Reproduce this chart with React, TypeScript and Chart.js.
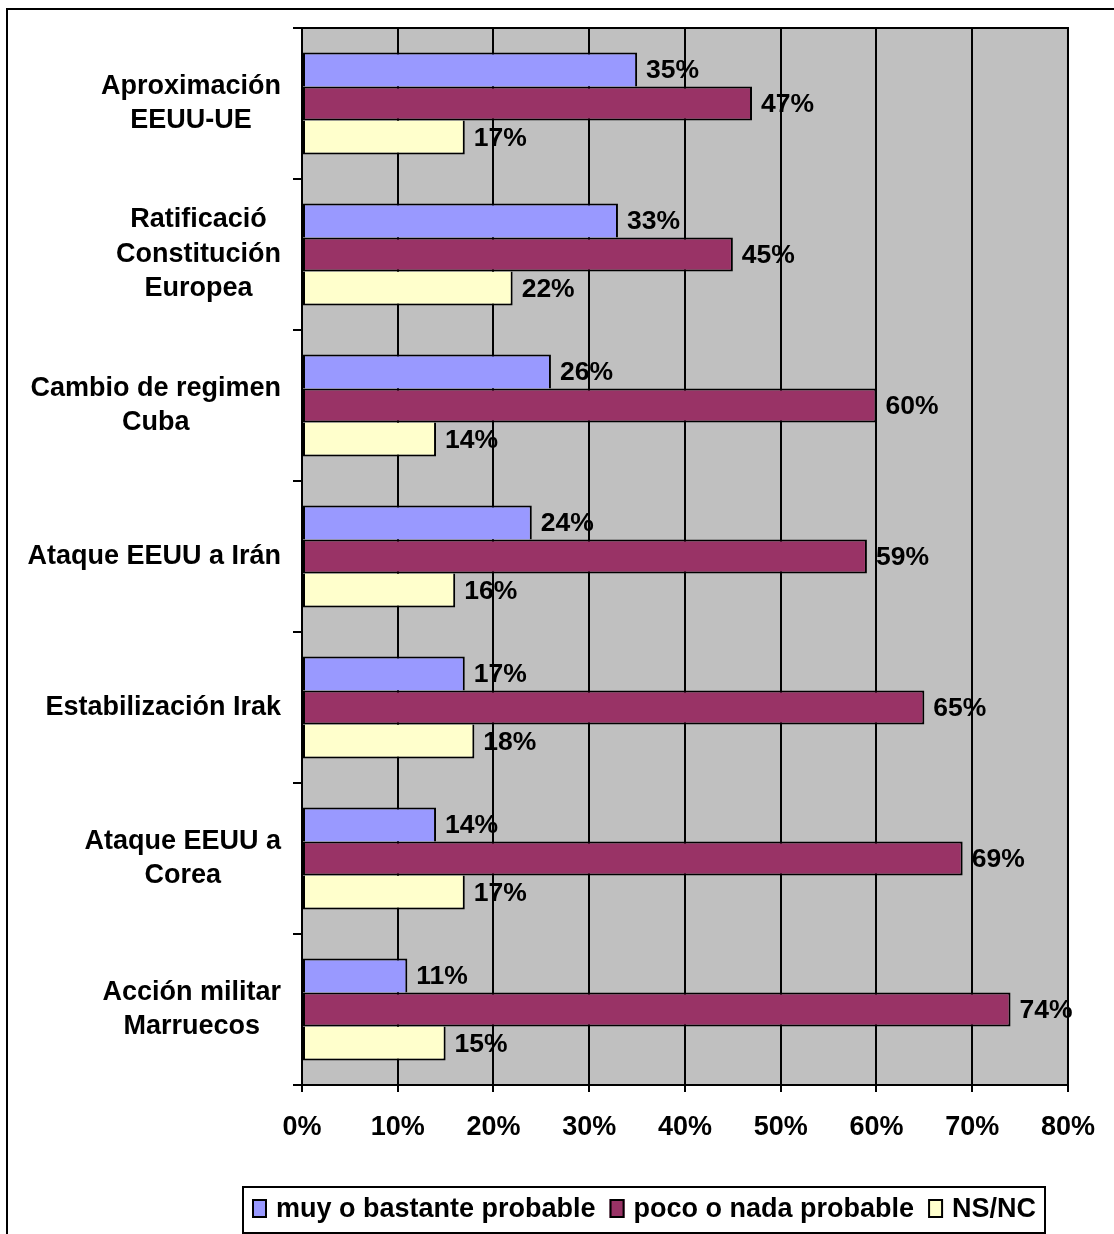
import React, { useEffect, useRef } from "react";
import { Chart, registerables } from "chart.js";

Chart.register(...registerables);

const categories: string[][] = [
  ["Aproximación", "EEUU-UE"],
  ["Ratificació", "Constitución", "Europea"],
  ["Cambio de regimen", "Cuba"],
  ["Ataque EEUU a Irán"],
  ["Estabilización Irak"],
  ["Ataque EEUU a", "Corea"],
  ["Acción militar", "Marruecos"],
];
const seriesLabels = ["muy o bastante probable", "poco o nada probable", "NS/NC"];
const muyProbable = [35, 33, 26, 24, 17, 14, 11];
const pocoProbable = [47, 45, 60, 59, 65, 69, 74];
const nsnc = [17, 22, 14, 16, 18, 17, 15];
const seriesColors = ["#9999FF", "#993366", "#FFFFCC"];
const xMin = 0;
const xMax = 80;
const xStep = 10;

const FONT_FAMILY = '"Liberation Sans", Arial, Helvetica, sans-serif';
const FONT = `bold 27px ${FONT_FAMILY}`;
const LABEL_FONT = `bold 26.5px ${FONT_FAMILY}`;

const decorPlugin = {
  id: "decor",
  beforeDraw(chart: any) {
    const { ctx, chartArea } = chart;
    ctx.save();
    ctx.fillStyle = "#FFFFFF";
    ctx.fillRect(0, 0, chart.width, chart.height);
    ctx.fillStyle = "#C0C0C0";
    ctx.fillRect(chartArea.left, chartArea.top, chartArea.right - chartArea.left, chartArea.bottom - chartArea.top);
    ctx.restore();
  },
  beforeDatasetsDraw(chart: any) {
    const { ctx, chartArea } = chart;
    ctx.save();
    ctx.strokeStyle = "#000";
    ctx.lineWidth = 2;
    ctx.beginPath();
    ctx.moveTo(chartArea.left, chartArea.top);
    ctx.lineTo(chartArea.right, chartArea.top);
    ctx.lineTo(chartArea.right, chartArea.bottom);
    ctx.stroke();
    ctx.restore();
  },
  afterDatasetsDraw(chart: any) {
    const { ctx } = chart;
    ctx.save();
    ctx.font = LABEL_FONT;
    ctx.fillStyle = "#000";
    ctx.textAlign = "left";
    ctx.textBaseline = "middle";
    chart.data.datasets.forEach((ds: any, i: number) => {
      const meta = chart.getDatasetMeta(i);
      meta.data.forEach((bar: any, j: number) => {
        ctx.fillText(`${ds.data[j]}%`, bar.x + 9, bar.y + 1);
      });
    });
    ctx.restore();
  },
  afterDraw(chart: any) {
    const { ctx } = chart;
    const yScale = chart.scales.y;
    ctx.save();
    ctx.font = FONT;
    ctx.fillStyle = "#000";
    ctx.textAlign = "center";
    ctx.textBaseline = "middle";
    const lineH = 34.5;
    categories.forEach((lines, i) => {
      const cy = yScale.getPixelForValue(i);
      const maxW = Math.max(...lines.map((l) => ctx.measureText(l).width));
      const cx = 281 - maxW / 2;
      lines.forEach((l, k) => {
        ctx.fillText(l, cx, cy + (k - (lines.length - 1) / 2) * lineH);
      });
    });

    // outer border
    ctx.strokeStyle = "#000";
    ctx.lineWidth = 2;
    ctx.strokeRect(7, 9, 1300, 1400);

    // legend box
    ctx.fillStyle = "#FFFFFF";
    ctx.fillRect(243, 1187, 802, 46);
    ctx.strokeRect(243, 1187, 802, 46);

    ctx.textAlign = "left";
    ctx.textBaseline = "alphabetic";
    let x = 252;
    chart.data.datasets.forEach((ds: any) => {
      ctx.fillStyle = ds.backgroundColor;
      ctx.fillRect(x, 1199, 15, 19);
      ctx.lineWidth = 2;
      ctx.strokeStyle = "#000";
      ctx.strokeRect(x + 1, 1200, 13, 17);
      x += 24;
      ctx.fillStyle = "#000";
      ctx.fillText(ds.label, x, 1217);
      x += ctx.measureText(ds.label).width + 14;
    });
    ctx.restore();
  },
};

export default function App() {
  const canvasRef = useRef<HTMLCanvasElement | null>(null);

  useEffect(() => {
    if (!canvasRef.current) return;
    const values = [muyProbable, pocoProbable, nsnc];
    const skips = ["bottom", false, "top"];
    const chart = new Chart(canvasRef.current, {
      type: "bar",
      data: {
        labels: categories.map((c) => c.join(" ")),
        datasets: seriesLabels.map((label, i) => ({
          label,
          data: values[i],
          backgroundColor: seriesColors[i],
          borderColor: "#000",
          borderWidth: 2,
          borderSkipped: skips[i] as any,
          categoryPercentage: 0.675,
          barPercentage: 1.0,
        })),
      },
      options: {
        indexAxis: "y",
        responsive: false,
        animation: false,
        devicePixelRatio: 1,
        layout: { padding: { left: 0, right: 45, top: 28, bottom: 0 } },
        plugins: {
          legend: { display: false },
          tooltip: { enabled: false },
        },
        scales: {
          x: {
            type: "linear",
            position: "bottom",
            min: xMin,
            max: xMax,
            grid: {
              color: "#000",
              lineWidth: 2,
              drawTicks: true,
              tickLength: 7,
            },
            border: { display: true, color: "#000", width: 2 },
            ticks: {
              stepSize: xStep,
              padding: 19,
              color: "#000",
              font: { family: FONT_FAMILY, size: 27, weight: "bold" },
              callback: (v: any) => `${v}%`,
              maxRotation: 0,
            },
            afterFit: (scale: any) => {
              scale.height = 149;
            },
          },
          y: {
            type: "category",
            grid: {
              drawOnChartArea: false,
              drawTicks: true,
              tickLength: 9,
              color: "#000",
              lineWidth: 2,
            },
            border: { display: true, color: "#000", width: 2 },
            ticks: { display: false },
            afterFit: (scale: any) => {
              scale.width = 302;
            },
          },
        },
      },
      plugins: [decorPlugin],
    } as any);
    return () => chart.destroy();
  }, []);

  return (
    <div style={{ position: "absolute", left: 0, top: 0, width: 1114, height: 1234 }}>
      <canvas ref={canvasRef} width={1114} height={1234} style={{ display: "block" }} />
    </div>
  );
}
